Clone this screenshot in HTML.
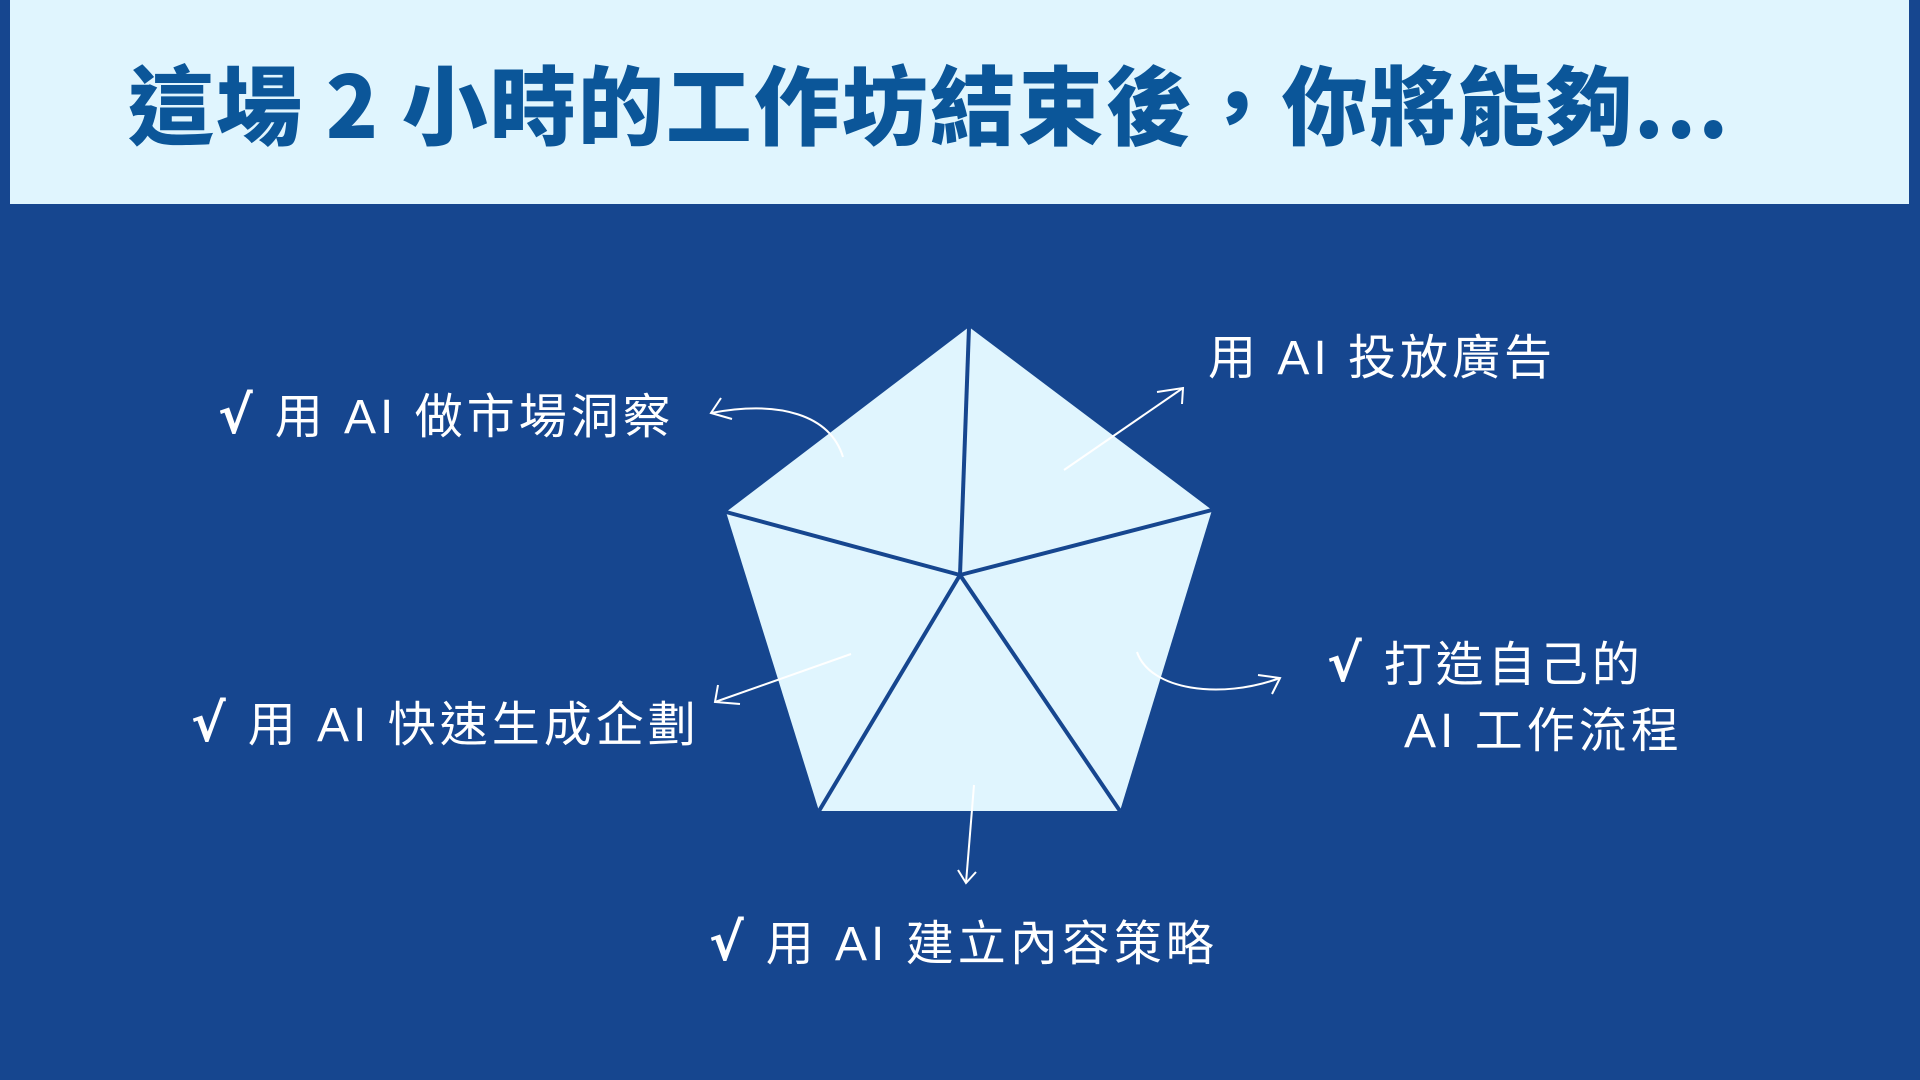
<!DOCTYPE html>
<html><head><meta charset="utf-8"><style>
html,body{margin:0;padding:0}
body{width:1920px;height:1080px;background:#16468f;position:relative;overflow:hidden;font-family:"Liberation Sans","Noto Sans CJK TC",sans-serif}
.banner{position:absolute;left:10px;top:0;width:1899px;height:204px;background:#e0f5fe}
.title{position:absolute;left:128px;top:38px;font-size:86px;font-weight:900;color:#0b5699;white-space:nowrap;letter-spacing:2px;font-family:"Noto Sans CJK TC","WenQuanYi Zen Hei",sans-serif}
.lbl{position:absolute;color:#fff;font-size:48px;white-space:nowrap;line-height:1;font-family:"Liberation Sans","Noto Sans CJK TC",sans-serif;letter-spacing:4px}
.ck{font-family:"DejaVu Sans",sans-serif;font-weight:bold;margin-right:18px;font-size:52px}
svg{position:absolute;left:0;top:0}
</style></head><body>
<div class="banner"></div>
<div class="title">這場 2 小時的工作坊結束後，你將能夠...</div>
<svg width="1920" height="1080">
<polygon points="969,327 1212,510 1120,811 819,811 726,512" fill="#e0f5fe"/>
<g stroke="#16468f" stroke-width="4" fill="none">
<line x1="960" y1="575" x2="969" y2="327"/>
<line x1="960" y1="575" x2="1212" y2="510"/>
<line x1="960" y1="575" x2="726" y2="512"/>
<line x1="960" y1="575" x2="819" y2="811"/>
<line x1="960" y1="575" x2="1120" y2="811"/>
</g>
<g stroke="#fff" stroke-width="2" fill="none">
<path d="M843,457 C830,415 780,400 711,413"/><path d="M721,398 L711,413 L732,419"/>
<path d="M1064,470 L1183,388"/><path d="M1157,392 L1183,388 L1182,404"/>
<path d="M851,654 L715,702"/><path d="M718,685 L715,702 L740,704"/>
<path d="M1137,652 C1150,690 1220,700 1280,678"/><path d="M1258,675 L1280,678 L1272,694"/>
<path d="M974,785 L966,883"/><path d="M958,870 L966,883 L976,872"/>
</g>
</svg>
<div class="lbl" style="left:218px;top:390px"><span class="ck">√</span>用 AI 做市場洞察</div>
<div class="lbl" style="left:1208px;top:335px">用 AI 投放廣告</div>
<div class="lbl" style="left:1327px;top:638px"><span class="ck">√</span>打造自己的</div>
<div class="lbl" style="left:1404px;top:708px">AI 工作流程</div>
<div class="lbl" style="left:191px;top:698px"><span class="ck">√</span>用 AI 快速生成企劃</div>
<div class="lbl" style="left:709px;top:917px"><span class="ck">√</span>用 AI 建立內容策略</div>
</body></html>
